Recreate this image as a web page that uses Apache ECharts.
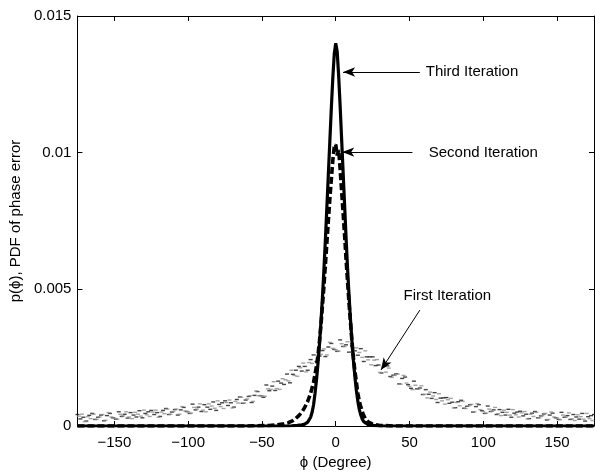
<!DOCTYPE html>
<html>
<head>
<meta charset="utf-8">
<script src="https://cdn.jsdelivr.net/npm/echarts@6/dist/echarts.min.js"></script>
<style>
html,body{margin:0;padding:0;background:#fff;}
#chart{width:595px;height:476px;}
</style>
</head>
<body>
<div id="chart"></div>
<script>
// ---------- DATA ----------
const xTicks = [-150, -100, -50, 0, 50, 100, 150];
const yTicks = [0, 0.005, 0.01, 0.015];

// Third iteration (solid)
const phi3 = [-175,-100,-50,-35,-30,-26,-23,-21,-20,-19,-18,-17,-16,-15,-14,-13,-12,-11,-10,-9,-8,-7,-6,-5,-4,-3,-2,-1,0,1,2,3,4,5,6,7,8,9,10,11,12,13,14,15,16,17,18,19,20,22,25,30,50,100,175];
const p3 = [0,0,0,0,0.00001,0.00002,0.00004,0.00007,0.0001,0.00014,0.0002,0.00032,0.0005,0.00078,0.0012,0.0017,0.0023,0.003,0.0038,0.0047,0.0057,0.0068,0.008,0.0092,0.0104,0.0116,0.0127,0.0136,0.0140,0.0137,0.0128,0.0117,0.0105,0.0093,0.0081,0.0069,0.0058,0.0048,0.0039,0.0031,0.0024,0.0018,0.0013,0.0009,0.0006,0.0004,0.00025,0.00016,0.0001,0.00005,0.00002,0,0,0,0];

// Second iteration (dashed)
const phi2 = [-175,-100,-60,-45,-40,-35,-32,-29,-27,-25,-23,-21,-19,-18,-17,-16,-15,-14,-13,-12,-11,-10,-9,-8,-7,-6,-5,-4,-3,-2,-1,0,1,2,3,4,5,6,7,8,9,10,11,12,13,14,15,16,17,18,19,20,22,25,30,40,100,175];
const p2 = [0,0,0,0.00002,0.00004,0.00008,0.00012,0.0002,0.00028,0.00038,0.0005,0.00068,0.0009,0.00105,0.0012,0.0014,0.0016,0.0019,0.0022,0.0026,0.0031,0.0037,0.0044,0.0051,0.0059,0.0067,0.0075,0.0083,0.0090,0.0097,0.0102,0.0103,0.0099,0.0101,0.0094,0.0086,0.0078,0.0070,0.0061,0.0053,0.0045,0.0038,0.0031,0.0025,0.0020,0.0016,0.0012,0.0009,0.0007,0.00052,0.00038,0.00028,0.00015,0.00007,0.00002,0,0,0];

// First iteration (noisy estimate), every 2 degrees from -175 (black dashes)
const phi1aStart = -175, phi1Step = 2;
const p1a = [
0.00042,0.00026,0.00032,0.00018,0.00039, 0.00046,0.00024,0.00032,0.00040,0.00019,
0.00038,0.00046,0.00030,0.00025,0.00052, 0.00035,0.00043,0.00029,0.00049,0.00040,
0.00033,0.00056,0.00030,0.00046,0.00052, 0.00057,0.00042,0.00049,0.00035,0.00057,
0.00064,0.00042,0.00051,0.00060,0.00040, 0.00059,0.00068,0.00053,0.00046,0.00080,
0.00059,0.00069,0.00053,0.00078,0.00069, 0.00061,0.00088,0.00057,0.00079,0.00085,
0.00092,0.00075,0.00085,0.00069,0.00097, 0.00106,0.00083,0.00095,0.00108,0.00086,
0.00112,0.00126,0.00111,0.00105,0.00150, 0.00129,0.00146,0.00130,0.00164,0.00157,
0.00152,0.00190,0.00158,0.00189,0.00204, 0.00218,0.00201,0.00218,0.00204,0.00243,
0.00260,0.00236,0.00256,0.00276,0.00254, 0.00289,0.00302,0.00280,0.00273,0.00315,
0.00291,0.00297,0.00270,0.00293,0.00275, 0.00259,0.00283,0.00236,0.00253,0.00253,
0.00253,0.00221,0.00223,0.00194,0.00218, 0.00220,0.00181,0.00186,0.00191,0.00154,
0.00174,0.00179,0.00151,0.00138,0.00164, 0.00136,0.00139,0.00115,0.00133,0.00116,
0.00101,0.00122,0.00086,0.00102,0.00103, 0.00104,0.00083,0.00087,0.00067,0.00089,
0.00094,0.00065,0.00072,0.00078,0.00051, 0.00071,0.00078,0.00056,0.00046,0.00073,
0.00053,0.00059,0.00042,0.00060,0.00050, 0.00040,0.00061,0.00032,0.00047,0.00051,
0.00054,0.00037,0.00043,0.00027,0.00047, 0.00053,0.00030,0.00037,0.00044,0.00022,
0.00040,0.00047,0.00030,0.00024,0.00050, 0.00032,0.00038,0.00024,0.00042,0.00033,
0.00025,0.00046,0.00018,0.00034,0.00038, 0.00042
];
// First iteration, second trace every 2 degrees from -174 (grey dashes)
const phi1bStart = -174;
const p1b = [
0.00036,0.00043,0.00016,0.00034,0.00027, 0.00043,0.00024,0.00033,0.00042,0.00021,
0.00049,0.00033,0.00029,0.00025,0.00043, 0.00037,0.00052,0.00033,0.00027,0.00050,
0.00043,0.00036,0.00058,0.00041,0.00035, 0.00051,0.00058,0.00032,0.00051,0.00045,
0.00062,0.00043,0.00053,0.00062,0.00043, 0.00071,0.00055,0.00052,0.00047,0.00068,
0.00062,0.00081,0.00058,0.00052,0.00081, 0.00073,0.00065,0.00092,0.00071,0.00064,
0.00086,0.00095,0.00066,0.00090,0.00084, 0.00105,0.00084,0.00099,0.00111,0.00090,
0.00128,0.00111,0.00110,0.00109,0.00136, 0.00134,0.00162,0.00137,0.00134,0.00173,
0.00169,0.00165,0.00204,0.00185,0.00182, 0.00213,0.00230,0.00198,0.00232,0.00229,
0.00259,0.00240,0.00262,0.00282,0.00260, 0.00306,0.00284,0.00279,0.00274,0.00301,
0.00291,0.00308,0.00272,0.00258,0.00286, 0.00269,0.00251,0.00275,0.00242,0.00224,
0.00241,0.00243,0.00196,0.00215,0.00197, 0.00212,0.00178,0.00185,0.00190,0.00153,
0.00185,0.00157,0.00145,0.00133,0.00149, 0.00135,0.00147,0.00116,0.00103,0.00124,
0.00110,0.00097,0.00118,0.00092,0.00080, 0.00096,0.00101,0.00066,0.00086,0.00074,
0.00090,0.00064,0.00073,0.00079,0.00052, 0.00082,0.00060,0.00053,0.00047,0.00062,
0.00054,0.00068,0.00045,0.00038,0.00058, 0.00050,0.00040,0.00060,0.00041,0.00033,
0.00048,0.00053,0.00026,0.00043,0.00035, 0.00050,0.00030,0.00038,0.00046,0.00024,
0.00051,0.00033,0.00029,0.00023,0.00040, 0.00033,0.00048,0.00026,0.00020,0.00041,
0.00034,0.00025,0.00046,0.00027,0.00020
];

// Annotations
const annoText = ['Third Iteration', 'Second Iteration', 'First Iteration'];
const annoTextPos = [[61, 0.01295], [63, 0.0100], [46, 0.00476]];
const annoArrowFrom = [[57, 0.01295], [52, 0.01002], [57, 0.00424]];
const annoArrowTo = [[5, 0.01295], [4.4, 0.01002], [30.7, 0.00205]];

// ---------- BUILD ----------
const FONT = '"Liberation Sans", Arial, Helvetica, sans-serif';
const zip = (xs, ys) => xs.map((x, i) => [x, ys[i]]);
const seq = (start, ys) => ys.map((y, i) => [start + i * phi1Step, y]);
const fmtMinus = v => String(v).replace('-', '\u2212');

const chart = echarts.init(document.getElementById('chart'), null, {renderer: 'canvas'});

const boxAxisX = {
  type: 'value', min: -175, max: 175,
  axisLine: {show: true, onZero: false, lineStyle: {color: '#000', width: 1}},
  axisTick: {show: true, inside: true, length: 5, customValues: xTicks, lineStyle: {color: '#000'}},
  splitLine: {show: false}
};
const boxAxisY = {
  type: 'value', min: 0, max: 0.015, interval: 0.005,
  axisLine: {show: true, onZero: false, lineStyle: {color: '#000', width: 1}},
  axisTick: {show: true, inside: true, length: 5, lineStyle: {color: '#000'}},
  splitLine: {show: false}
};

const option = {
  animation: false,
  backgroundColor: '#fff',
  grid: {left: 75, right: 1, top: 16, bottom: 50, containLabel: false},
  xAxis: [
    Object.assign({}, boxAxisX, {
      position: 'bottom',
      name: '\u03d5 (Degree)', nameLocation: 'middle', nameGap: 25,
      nameTextStyle: {fontFamily: FONT, fontSize: 15, color: '#000'},
      axisLabel: {show: true, customValues: xTicks, margin: 9, fontFamily: FONT, fontSize: 15, color: '#000', formatter: fmtMinus}
    }),
    Object.assign({}, boxAxisX, {position: 'top', axisLabel: {show: false}})
  ],
  yAxis: [
    Object.assign({}, boxAxisY, {
      position: 'left',
      name: 'p(\u03d5), PDF of phase error', nameLocation: 'middle', nameGap: 50,
      nameTextStyle: {fontFamily: FONT, fontSize: 15, color: '#000'},
      axisLabel: {show: true, margin: 6, fontFamily: FONT, fontSize: 15, color: '#000', formatter: v => String(v)}
    }),
    Object.assign({}, boxAxisY, {position: 'right', axisLabel: {show: false}})
  ],
  series: [
    {
      name: 'First Iteration A', type: 'scatter', silent: true,
      data: seq(phi1aStart, p1a), symbol: 'rect', symbolSize: [4, 1.4],
      itemStyle: {color: '#151515'}
    },
    {
      name: 'First Iteration B', type: 'scatter', silent: true,
      data: seq(phi1bStart, p1b), symbol: 'rect', symbolSize: [4, 1.4],
      itemStyle: {color: '#8c8c8c'}
    },
    {
      name: 'Second Iteration', type: 'line', silent: true, showSymbol: false,
      data: zip(phi2, p2),
      lineStyle: {color: '#000', width: 3.6, type: [7, 3]}
    },
    {
      name: 'Third Iteration', type: 'line', silent: true, showSymbol: false,
      data: zip(phi3, p3),
      lineStyle: {color: '#000', width: 3.2},
      markLine: {
        silent: true, animation: false,
        symbol: ['none', 'arrow'], symbolSize: [7, 12],
        label: {show: false},
        lineStyle: {color: '#000', width: 1, type: 'solid'},
        data: annoArrowFrom.map((f, i) => [{coord: f}, {coord: annoArrowTo[i]}])
      },
      markPoint: {
        silent: true, animation: false,
        symbol: 'circle', symbolSize: 0,
        label: {show: true, position: 'right', distance: 0, fontFamily: FONT, fontSize: 15, color: '#000',
                formatter: p => p.name},
        data: annoText.map((t, i) => ({name: t, coord: annoTextPos[i]}))
      }
    }
  ]
};
chart.setOption(option);
</script>
</body>
</html>
